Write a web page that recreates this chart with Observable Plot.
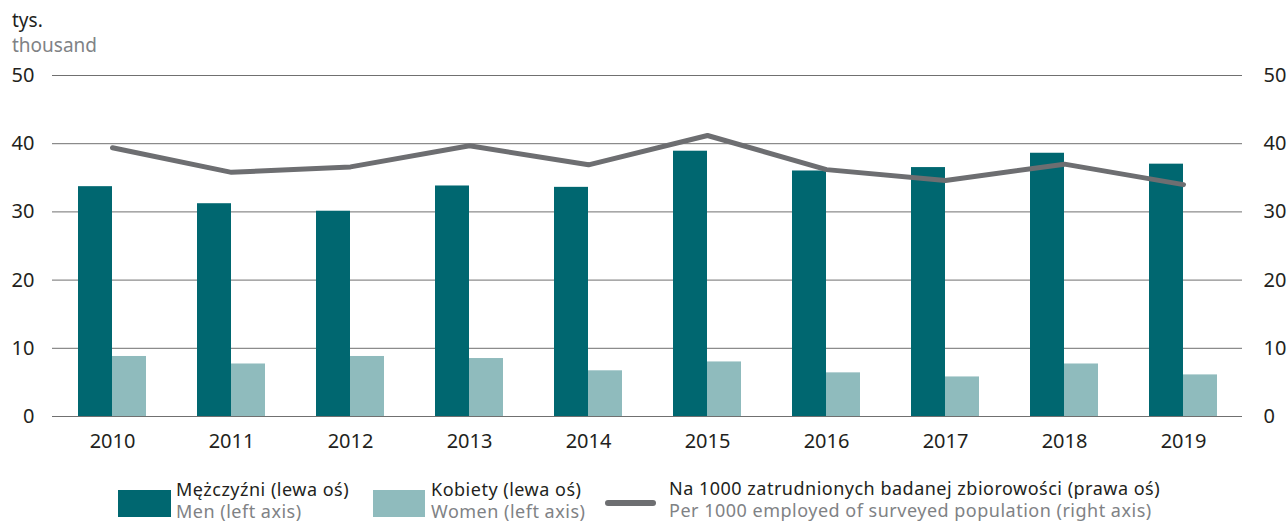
<!DOCTYPE html>
<html>
<head>
<meta charset="utf-8">
<script src="https://cdn.jsdelivr.net/npm/d3@7"></script>
<script src="https://cdn.jsdelivr.net/npm/@observablehq/plot@0.6"></script>
<style>
  html, body { margin: 0; padding: 0; background: #fff; width: 1288px; height: 524px; overflow: hidden; }
  body { position: relative; font-family: "Noto Sans", "Open Sans", sans-serif; color: #231f20; }
  .abs { position: absolute; white-space: nowrap; }
  .pl { font-size: 19px; color: #231f20; line-height: 22px; }
  .en { font-size: 19px; color: #808285; line-height: 22px; }
  .lg .pl, .lg .en { font-size: 18px; letter-spacing: 0.5px; line-height: 22px; }
  #chart { position: absolute; left: 0; top: 60px; }
</style>
</head>
<body>
<div class="abs pl" style="left:12px; top:9px;">tys.</div>
<div class="abs en" style="left:12px; top:34px;">thousand</div>
<div id="chart"></div>

<div class="abs" style="left:118px; top:490px; width:53px; height:27px; background:#006770;"></div>
<div class="abs lg" style="left:176px; top:478px;"><div class="pl">Mężczyźni (lewa oś)</div><div class="en">Men (left axis)</div></div>

<div class="abs" style="left:373px; top:490px; width:52px; height:27px; background:#8fbbbd;"></div>
<div class="abs lg" style="left:431px; top:478px;"><div class="pl">Kobiety (lewa oś)</div><div class="en">Women (left axis)</div></div>

<div class="abs" style="left:605px; top:500px; width:51px; height:6px; border-radius:3px; background:#6d6e71;"></div>
<div class="abs lg" style="left:669px; top:477px;"><div class="pl">Na 1000 zatrudnionych badanej zbiorowości (prawa oś)</div><div class="en">Per 1000 employed of surveyed population (right axis)</div></div>

<script>
const years = ["2010","2011","2012","2013","2014","2015","2016","2017","2018","2019"];
const men = [33.7, 31.2, 30.1, 33.8, 33.6, 38.9, 36.0, 36.5, 38.6, 37.0];
const women = [8.8, 7.7, 8.8, 8.5, 6.7, 8.0, 6.4, 5.8, 7.7, 6.1];
const per1000 = [39.4, 35.8, 36.6, 39.7, 36.9, 41.2, 36.2, 34.6, 37.0, 34.0];
const yTicks = [0, 10, 20, 30, 40, 50];

const data = years.map((year, i) => ({year, men: men[i], women: women[i], per1000: per1000[i]}));

const chart = Plot.plot({
  width: 1288,
  height: 400,
  marginTop: 15,
  marginBottom: 44,
  marginLeft: 52,
  marginRight: 46,
  style: {fontSize: "20px", fontFamily: "'Noto Sans', 'Open Sans', sans-serif", color: "#231f20", background: "transparent"},
  x: {type: "band", domain: years, paddingInner: 0.4286, paddingOuter: 0.2143, label: null},
  y: {domain: [0, 50], label: null},
  marks: [
    Plot.ruleY(yTicks, {stroke: "#707070", strokeWidth: 1}),
    Plot.barY(data, {x: "year", y: "men", fill: "#006770", insetRight: 34}),
    Plot.barY(data, {x: "year", y: "women", fill: "#8fbbbd", insetLeft: 34}),
    Plot.lineY(data, {x: "year", y: "per1000", stroke: "#6d6e71", strokeWidth: 5, strokeLinecap: "round", strokeLinejoin: "round"}),
    Plot.axisX({tickSize: 0, tickPadding: 17, label: null}),
    Plot.axisY({anchor: "left", ticks: yTicks, tickSize: 0, tickPadding: 18, label: null}),
    Plot.axisY({anchor: "right", ticks: yTicks, tickSize: 0, tickPadding: 21, label: null})
  ]
});
document.getElementById("chart").appendChild(chart);
</script>
</body>
</html>
